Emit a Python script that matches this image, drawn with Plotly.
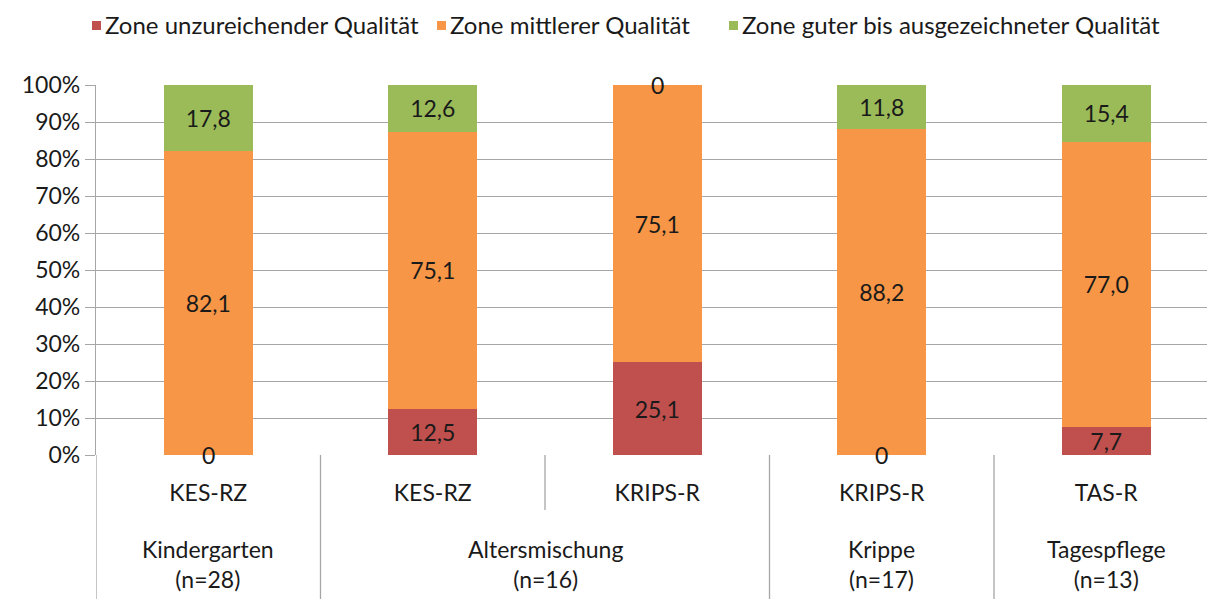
import plotly.graph_objects as go

# ---- data ----
groups = ["Kindergarten", "Altersmischung", "Altersmischung", "Krippe", "Tagespflege"]
group_n = {"Kindergarten": 28, "Altersmischung": 16, "Krippe": 17, "Tagespflege": 13}
instruments = ["KES-RZ", "KES-RZ", "KRIPS-R", "KRIPS-R", "TAS-R"]

series_names = [
    "Zone unzureichender Qualität",
    "Zone mittlerer Qualität",
    "Zone guter bis ausgezeichneter Qualität",
]
low = [0, 12.5, 25.1, 0, 7.7]
mid = [82.1, 75.1, 75.1, 88.2, 77.0]
good = [17.8, 12.6, 0, 11.8, 15.4]
series_values = [low, mid, good]
series_colors = ["#C0504D", "#F79646", "#9BBB59"]

FONT = "Lato"
FS = 23
TXT = "#1a1a1a"
GRID = "#A6A6A6"


def fmt(v):
    return "0" if v == 0 else f"{v:.1f}".replace(".", ",")


xs = list(range(len(instruments)))
fig = go.Figure()
for name, vals, col in zip(series_names, series_values, series_colors):
    fig.add_trace(go.Bar(
        x=xs, y=vals, name=name, marker=dict(color=col, line=dict(width=0)),
        text=[fmt(v) for v in vals],
        textposition=["inside" if v > 0 else "none" for v in vals],
        insidetextanchor="middle", textangle=0, constraintext="none",
        textfont=dict(family=FONT, size=FS, color=TXT),
        showlegend=False,
    ))

annotations = []
shapes = []

# zero labels at the stack position
totals = [sum(s[i] for s in series_values) for i in xs]
for si, vals in enumerate(series_values):
    for i, v in enumerate(vals):
        if v == 0:
            base = sum(series_values[k][i] for k in range(si)) / totals[i] * 100
            annotations.append(dict(x=i, y=base, xref="x", yref="y", text="0",
                                    showarrow=False, xanchor="center", yanchor="middle",
                                    font=dict(family=FONT, size=FS, color=TXT)))

# group labels and dividers
bottom = -(599 - 455) / 370
ordered = []
for g in groups:
    if g not in ordered:
        ordered.append(g)
for g in ordered:
    idx = [i for i, gg in enumerate(groups) if gg == g]
    annotations.append(dict(x=sum(idx) / len(idx), y=-(533 - 455) / 370, xref="x", yref="paper",
                            text=f"{g}<br>(n={group_n[g]})", showarrow=False,
                            xanchor="center", yanchor="top",
                            font=dict(family=FONT, size=FS, color=TXT)))
for i in range(len(groups)):
    xpos = i - 0.5
    if i == 0 or groups[i] != groups[i - 1]:
        y1 = bottom
    else:
        y1 = -(510 - 455) / 370
    shapes.append(dict(type="line", xref="x", yref="paper", x0=xpos, x1=xpos, y0=0, y1=y1,
                       line=dict(color=GRID, width=1.3)))

# legend (drawn manually, compact like the original)
leg_sq_x = [92, 437, 729]
for name, col, sx in zip(series_names, series_colors, leg_sq_x):
    shapes.append(dict(type="rect", xref="paper", yref="paper",
                       x0=(sx - 96) / 1111, x1=(sx + 9 - 96) / 1111,
                       y0=1 + (85 - 30) / 370, y1=1 + (85 - 21) / 370,
                       fillcolor=col, line=dict(width=0)))
    annotations.append(dict(x=(sx + 11 - 96) / 1111, y=1 + (85 - 25) / 370, xref="paper", yref="paper",
                            text=name, showarrow=False, xanchor="left", yanchor="middle",
                            font=dict(family=FONT, size=24, color=TXT)))

fig.update_layout(
    barmode="stack", barnorm="percent", bargap=0.604,
    width=1207, height=599,
    margin=dict(l=96, r=0, t=85, b=144),
    plot_bgcolor="white", paper_bgcolor="white",
    font=dict(family=FONT, size=FS, color=TXT),
    annotations=annotations, shapes=shapes,
    xaxis=dict(range=[-0.5, -0.5 + 1111 / 224.5], tickvals=xs, ticktext=instruments,
               showgrid=False, zeroline=False, showline=False, ticks="",
               ticklabelstandoff=22, tickfont=dict(family=FONT, size=FS, color=TXT)),
    yaxis=dict(range=[0, 100], dtick=10, ticksuffix="%", showgrid=True, gridcolor=GRID,
               gridwidth=1.3, zeroline=False, showline=True, linecolor=GRID, linewidth=1.3,
               ticks="outside", ticklen=10, tickcolor=GRID, tickwidth=1.3,
               tickfont=dict(family=FONT, size=FS, color=TXT)),
)

fig.write_html("out.html", config={"displayModeBar": False},
               post_script="document.body.style.margin='0';document.body.style.overflow='hidden';")
